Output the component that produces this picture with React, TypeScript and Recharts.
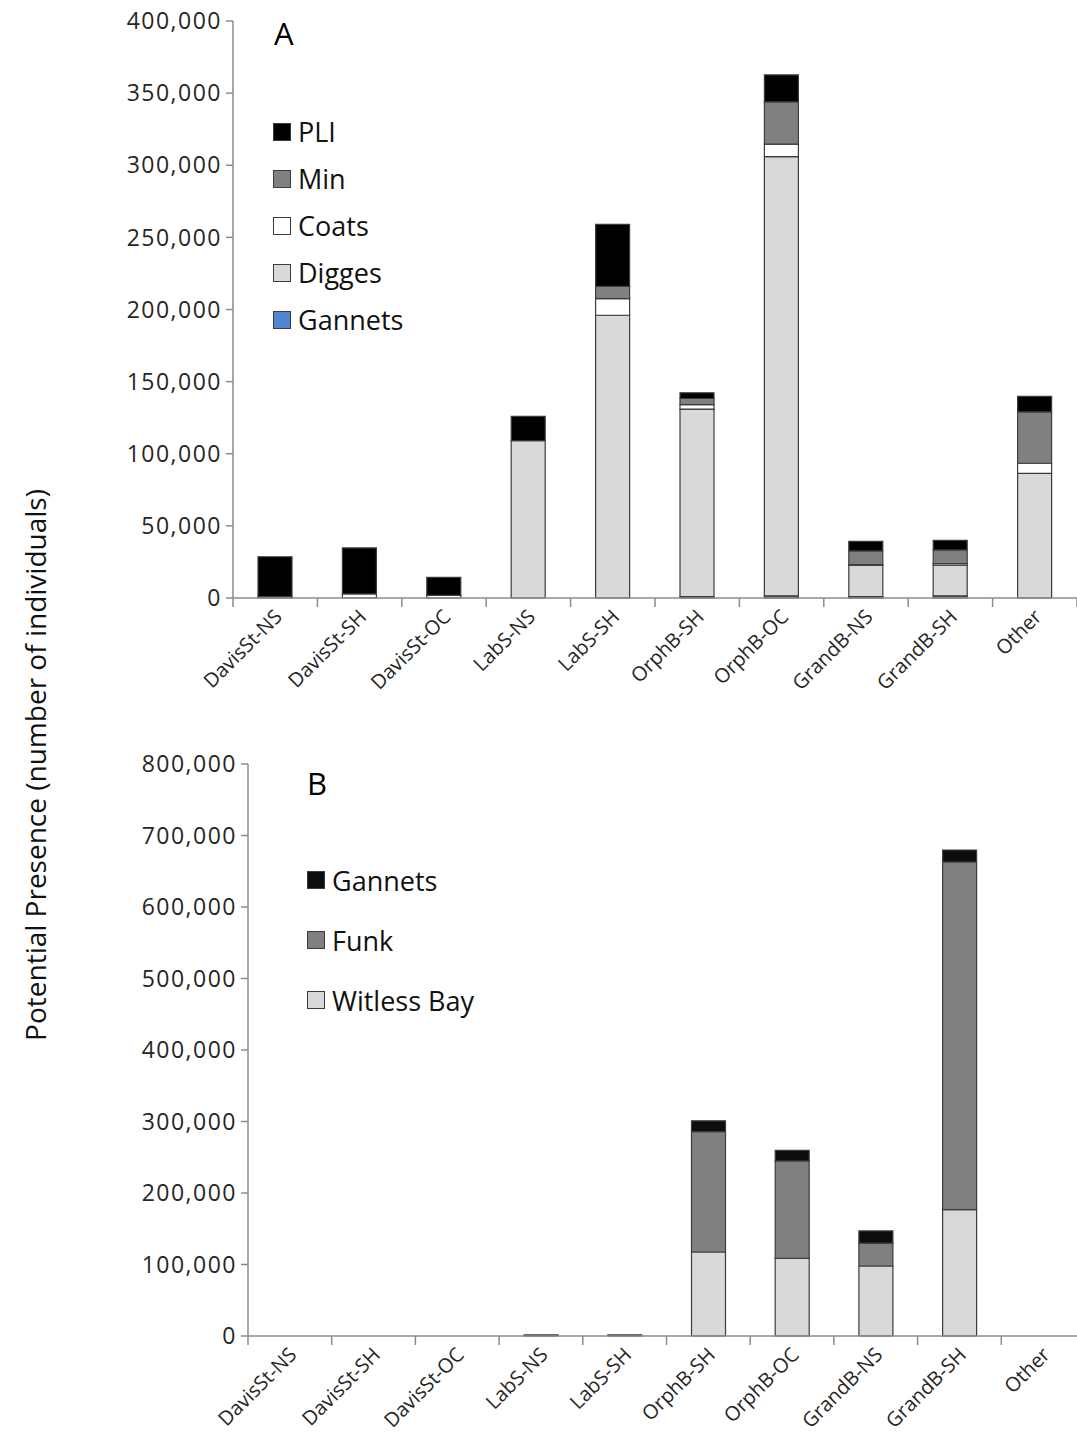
import React from "react";
import { BarChart, Bar, XAxis, YAxis } from "recharts";

const regions = [
  "DavisSt-NS",
  "DavisSt-SH",
  "DavisSt-OC",
  "LabS-NS",
  "LabS-SH",
  "OrphB-SH",
  "OrphB-OC",
  "GrandB-NS",
  "GrandB-SH",
  "Other",
];

// panel A (stacked bottom -> top: Gannets, Digges, Coats, Min, PLI)
const gannetsA = [0, 0, 0, 0, 0, 1000, 1500, 1000, 1500, 0];
const digges = [0, 0, 0, 109000, 196000, 130000, 304500, 21800, 21200, 86400];
const coats = [1000, 2800, 1800, 0, 11500, 3000, 8700, 300, 1100, 7000];
const minA = [0, 0, 0, 0, 8500, 4300, 29300, 9500, 9500, 35600];
const pli = [27600, 31900, 12500, 17000, 43000, 4000, 18600, 6600, 6700, 10800];

// panel B (stacked bottom -> top: Witless Bay, Funk, Gannets)
const witless = [0, 0, 0, 1500, 1500, 117500, 108600, 97900, 176700, 0];
const funk = [0, 0, 0, 0, 0, 168200, 136200, 32100, 486300, 0];
const gannetsB = [0, 0, 0, 0, 0, 15300, 14900, 16900, 16700, 0];

const ticksA = [0, 50000, 100000, 150000, 200000, 250000, 300000, 350000, 400000];
const ticksB = [0, 100000, 200000, 300000, 400000, 500000, 600000, 700000, 800000];

const dataA = regions.map((r, i) => ({
  name: r,
  Gannets: gannetsA[i],
  Digges: digges[i],
  Coats: coats[i],
  Min: minA[i],
  PLI: pli[i],
}));

const dataB = regions.map((r, i) => ({
  name: r,
  "Witless Bay": witless[i],
  Funk: funk[i],
  Gannets: gannetsB[i],
}));

const FONT = "'Open Sans', 'Noto Sans', sans-serif";
const AXIS = "#8c8c8c";
const EDGE = "#3c3c3c";
const TEXT = "#262626";

const fmt = (v: number) => v.toLocaleString("en-US");

function makeTick(band: number, count: number) {
  return (props: any) => {
    const { x, y, payload, index } = props;
    const left = x - band / 2;
    return (
      <g>
        <line x1={left} x2={left} y1={y - 10} y2={y - 1} stroke={AXIS} strokeWidth={1.5} />
        {index === count - 1 && (
          <line x1={x + band / 2} x2={x + band / 2} y1={y - 10} y2={y - 1} stroke={AXIS} strokeWidth={1.5} />
        )}
        <text
          x={x + 8}
          y={y + 10}
          textAnchor="end"
          fontSize={20}
          fontFamily={FONT}
          fill={TEXT}
          transform={`rotate(-45, ${x + 8}, ${y + 10})`}
        >
          {payload.value}
        </text>
      </g>
    );
  };
}

type Item = { label: string; color: string };

function LegendBox({ items, gap, left, top }: { items: Item[]; gap: number; left: number; top: number }) {
  return (
    <div style={{ position: "absolute", left, top, fontFamily: FONT, color: "#111" }}>
      {items.map((it) => (
        <div key={it.label} style={{ display: "flex", alignItems: "center", height: gap }}>
          <span
            style={{
              display: "inline-block",
              width: 16,
              height: 16,
              background: it.color,
              border: `1.5px solid ${EDGE}`,
              marginRight: 7,
            }}
          />
          <span style={{ fontSize: 27 }}>{it.label}</span>
        </div>
      ))}
    </div>
  );
}

const legendA: Item[] = [
  { label: "PLI", color: "#000000" },
  { label: "Min", color: "#808080" },
  { label: "Coats", color: "#ffffff" },
  { label: "Digges", color: "#d9d9d9" },
  { label: "Gannets", color: "#4f86cf" },
];

const legendB: Item[] = [
  { label: "Gannets", color: "#0d0d0d" },
  { label: "Funk", color: "#808080" },
  { label: "Witless Bay", color: "#d9d9d9" },
];

const yTickStyle = { fontSize: 23, fontFamily: FONT, fill: TEXT, letterSpacing: 1.5 };

export default function App() {
  return (
    <div
      style={{
        position: "absolute",
        left: 0,
        top: 0,
        width: 1077,
        height: 1442,
        overflow: "hidden",
        background: "#fff",
      }}
    >
      {/* axis title */}
      <svg style={{ position: "absolute", left: 0, top: 0 }} width={80} height={1442}>
        <text
          x={46}
          y={765}
          textAnchor="middle"
          fontSize={28}
          fontFamily={FONT}
          fill="#111"
          transform="rotate(-90, 46, 765)"
        >
          Potential Presence (number of individuals)
        </text>
      </svg>

      {/* panel A */}
      <div style={{ position: "absolute", left: 0, top: 0 }}>
        <BarChart
          width={1077}
          height={720}
          data={dataA}
          margin={{ top: 21, right: 0, left: 0, bottom: 0 }}
          barSize={34}
        >
          <XAxis
            dataKey="name"
            interval={0}
            height={122}
            tickLine={false}
            tickSize={10}
            tickMargin={0}
            stroke={AXIS}
            strokeWidth={1.5}
            tick={makeTick(844 / 10, 10)}
          />
          <YAxis
            width={233}
            domain={[0, 400000]}
            ticks={ticksA}
            tickFormatter={fmt}
            stroke={AXIS}
            strokeWidth={1.5}
            tickSize={7}
            tickMargin={4}
            tick={yTickStyle}
            interval={0}
          />
          <Bar dataKey="Gannets" stackId="a" fill="#4f86cf" stroke={EDGE} strokeWidth={1.2} isAnimationActive={false} />
          <Bar dataKey="Digges" stackId="a" fill="#d9d9d9" stroke={EDGE} strokeWidth={1.2} isAnimationActive={false} />
          <Bar dataKey="Coats" stackId="a" fill="#ffffff" stroke={EDGE} strokeWidth={1.2} isAnimationActive={false} />
          <Bar dataKey="Min" stackId="a" fill="#808080" stroke={EDGE} strokeWidth={1.2} isAnimationActive={false} />
          <Bar dataKey="PLI" stackId="a" fill="#000000" stroke={EDGE} strokeWidth={1.2} isAnimationActive={false} />
        </BarChart>
        <LegendBox items={legendA} gap={47} left={273} top={108} />
        <div
          style={{
            position: "absolute",
            left: 274,
            top: 12,
            fontSize: 31,
            fontFamily: FONT,
            color: "#000",
          }}
        >
          A
        </div>
      </div>

      {/* panel B */}
      <div style={{ position: "absolute", left: 0, top: 740 }}>
        <BarChart
          width={1085}
          height={702}
          data={dataB}
          margin={{ top: 24, right: 0, left: 0, bottom: 0 }}
          barSize={34}
        >
          <XAxis
            dataKey="name"
            interval={0}
            height={106}
            tickLine={false}
            tickSize={10}
            tickMargin={0}
            stroke={AXIS}
            strokeWidth={1.5}
            tick={makeTick(837 / 10, 10)}
          />
          <YAxis
            width={248}
            domain={[0, 800000]}
            ticks={ticksB}
            tickFormatter={fmt}
            stroke={AXIS}
            strokeWidth={1.5}
            tickSize={7}
            tickMargin={4}
            tick={yTickStyle}
            interval={0}
          />
          <Bar dataKey="Witless Bay" stackId="b" fill="#d9d9d9" stroke={EDGE} strokeWidth={1.2} isAnimationActive={false} />
          <Bar dataKey="Funk" stackId="b" fill="#808080" stroke={EDGE} strokeWidth={1.2} isAnimationActive={false} />
          <Bar dataKey="Gannets" stackId="b" fill="#0d0d0d" stroke={EDGE} strokeWidth={1.2} isAnimationActive={false} />
        </BarChart>
        <LegendBox items={legendB} gap={60} left={307} top={110} />
        <div
          style={{
            position: "absolute",
            left: 307,
            top: 22,
            fontSize: 31,
            fontFamily: FONT,
            color: "#000",
          }}
        >
          B
        </div>
      </div>
    </div>
  );
}
